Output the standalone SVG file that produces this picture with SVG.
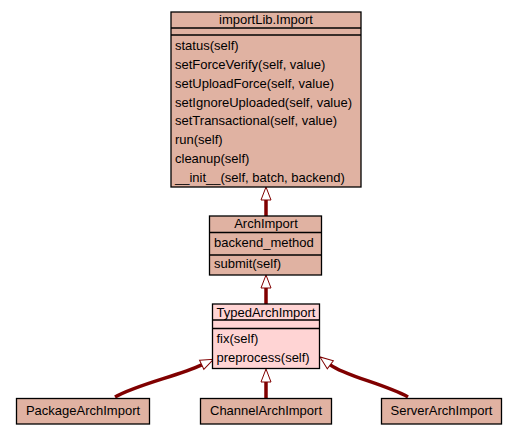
<svg xmlns="http://www.w3.org/2000/svg" width="517" height="435" viewBox="0 0 517 435">
<style>
.box{stroke:#000;stroke-width:1.3}
.a{fill:#E0B2A2}
.b{fill:#FFD4D4}
.t{font-family:"Liberation Sans",Arial,sans-serif;font-size:13px;fill:#000}
.c{text-anchor:middle}
.e{fill:none;stroke:#800000;stroke-width:3.5}
</style>
<defs>
<marker id="h" markerUnits="userSpaceOnUse" markerWidth="20" markerHeight="20" refX="0" refY="6" orient="auto" overflow="visible">
<path d="M0,1 L13,6 L0,11 Z" fill="#fff" stroke="#800000" stroke-width="1"/>
</marker>
</defs>
<rect width="517" height="435" fill="#fff"/>
<g id="edges">
<path class="e" d="M266,216 L266,200" marker-end="url(#h)"/>
<path class="e" d="M266,304 L266,288" marker-end="url(#h)"/>
<path class="e" d="M266,398 L266,382" marker-end="url(#h)"/>
<path class="e" d="M115,397 C138,384 178,376 201.7,364.8" marker-end="url(#h)"/>
<path class="e" d="M408,397 C385,384 345,376 330.3,364.8" marker-end="url(#h)"/>
</g>
<g id="importLib.Import">
<rect class="box a" x="171" y="12" width="190" height="175"/>
<line class="box" x1="171" y1="28" x2="361" y2="28"/>
<line class="box" x1="171" y1="35" x2="361" y2="35"/>
<text class="t c" x="266" y="24">importLib.Import</text>
<text class="t" x="175" y="50">status(self)</text>
<text class="t" x="175" y="69">setForceVerify(self, value)</text>
<text class="t" x="175" y="88">setUploadForce(self, value)</text>
<text class="t" x="175" y="106.5">setIgnoreUploaded(self, value)</text>
<text class="t" x="175" y="125">setTransactional(self, value)</text>
<text class="t" x="175" y="144">run(self)</text>
<text class="t" x="175" y="163">cleanup(self)</text>
<text class="t" x="175" y="182">__init__(self, batch, backend)</text>
</g>
<g id="ArchImport">
<rect class="box a" x="209.5" y="216" width="112" height="59"/>
<line class="box" x1="209.5" y1="232.5" x2="321.5" y2="232.5"/>
<line class="box" x1="209.5" y1="255" x2="321.5" y2="255"/>
<text class="t c" x="266" y="228">ArchImport</text>
<text class="t" x="214" y="247">backend_method</text>
<text class="t" x="214" y="268">submit(self)</text>
</g>
<g id="TypedArchImport">
<rect class="box b" x="212.5" y="304" width="107" height="64.5"/>
<line class="box" x1="212.5" y1="320" x2="319.5" y2="320"/>
<line class="box" x1="212.5" y1="328.5" x2="319.5" y2="328.5"/>
<text class="t c" x="266" y="316.5">TypedArchImport</text>
<text class="t" x="216.5" y="343">fix(self)</text>
<text class="t" x="216.5" y="361.5">preprocess(self)</text>
</g>
<g id="PackageArchImport">
<rect class="box a" x="16.5" y="398.5" width="133" height="25.5"/>
<text class="t c" x="83" y="415">PackageArchImport</text>
</g>
<g id="ChannelArchImport">
<rect class="box a" x="200.5" y="398.5" width="131" height="25.5"/>
<text class="t c" x="266" y="415">ChannelArchImport</text>
</g>
<g id="ServerArchImport">
<rect class="box a" x="381.5" y="398.5" width="120" height="25.5"/>
<text class="t c" x="441.5" y="415">ServerArchImport</text>
</g>
</svg>
